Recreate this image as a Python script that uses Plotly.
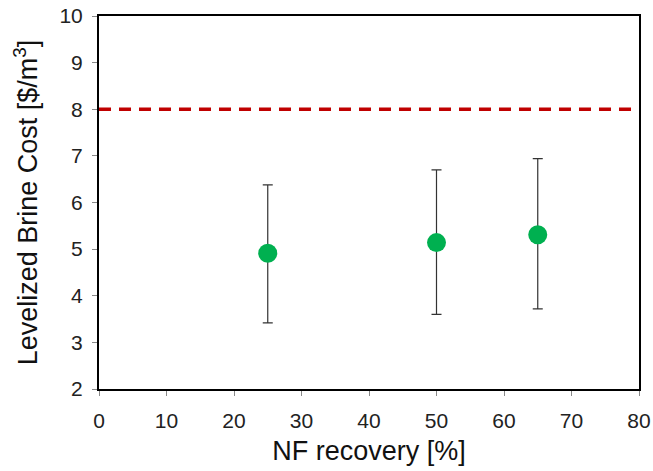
import plotly.graph_objects as go

# NF recovery (%) and levelized brine cost ($/m3)
recovery = [25, 50, 65]
cost = [4.91, 5.14, 5.31]
cost_upper = [6.38, 6.70, 6.94]
cost_lower = [3.42, 3.60, 3.72]
reference_cost = 8.0

err_plus = [u - c for u, c in zip(cost_upper, cost)]
err_minus = [c - l for c, l in zip(cost, cost_lower)]

FONT = "Liberation Sans, Arial"

fig = go.Figure()

fig.add_trace(go.Scatter(
    x=[0, 80], y=[reference_cost, reference_cost],
    mode="lines",
    line=dict(color="#C00000", width=3.5, dash="12px,8px"),
    showlegend=False, hoverinfo="skip",
))

fig.add_trace(go.Scatter(
    x=recovery, y=cost,
    mode="markers",
    marker=dict(color="#00B050", size=19),
    error_y=dict(type="data", symmetric=False, array=err_plus, arrayminus=err_minus,
                 color="#333333", thickness=1.2, width=5),
    showlegend=False,
))

axis_common = dict(
    showline=True, linecolor="black", linewidth=2, mirror=True,
    ticks="outside", ticklen=5, tickcolor="#888888", tickwidth=1,
    showgrid=False, zeroline=False, automargin=False,
    tickfont=dict(family=FONT, size=21, color="#222222"),
)

fig.update_layout(
    width=653, height=471,
    margin=dict(l=99, r=14, t=16, b=82),
    plot_bgcolor="white", paper_bgcolor="white",
    xaxis=dict(range=[0, 80], dtick=10, ticklabelstandoff=7,
               title=dict(text="NF recovery [%]", standoff=10,
                          font=dict(family=FONT, size=27, color="#111111")),
               **axis_common),
    yaxis=dict(range=[2, 10], dtick=1, ticklabelstandoff=5,
               title=dict(text="Levelized Brine Cost [$/m<sup>3</sup>]", standoff=14,
                          font=dict(family=FONT, size=27, color="#111111")),
               **axis_common),
)

fig.write_html("out.html")
